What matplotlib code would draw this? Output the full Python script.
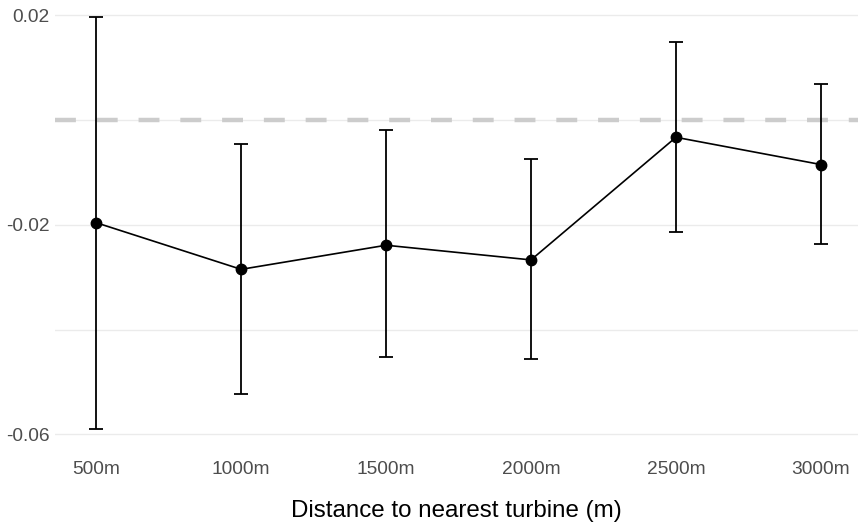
import matplotlib.pyplot as plt
import numpy as np

plt.rcParams['font.family'] = ['Liberation Sans', 'DejaVu Sans']

distance = [500, 1000, 1500, 2000, 2500, 3000]
labels = ['500m', '1000m', '1500m', '2000m', '2500m', '3000m']
estimate = [-0.0196, -0.0285, -0.0239, -0.0267, -0.0033, -0.0085]
lower = [-0.0590, -0.0523, -0.0452, -0.0456, -0.0214, -0.0237]
upper = [0.0197, -0.0046, -0.0019, -0.0074, 0.0148, 0.0069]

est = np.array(estimate)
yerr = [est - np.array(lower), np.array(upper) - est]

fig = plt.figure(figsize=(8.6, 5.23), dpi=100)
ax = fig.add_axes([55/860, 1 - 449.6/523, (858-55)/860, 449.6/523])

ax.set_yticks([-0.06, -0.02, 0.02])
ax.set_yticks([-0.04, 0.0], minor=True)
ax.grid(True, axis='y', which='both', color='#ebebeb', linewidth=1.0)
ax.tick_params(axis='y', which='minor', length=0)
ax.set_axisbelow(True)

ax.axhline(0, color='#cccccc', linewidth=3.2, dashes=(4.7, 4.7), zorder=1)

ax.plot(distance, estimate, color='black', linewidth=1.2, zorder=3)
ax.errorbar(distance, estimate, yerr=yerr, fmt='none', ecolor='black',
            elinewidth=1.3, capsize=5, capthick=1.3, zorder=3)
ax.plot(distance, estimate, 'o', color='black', markersize=7.5, zorder=4)

ax.set_xlim(358, 3128)
ax.set_ylim(-0.0629, 0.0229)
ax.set_xticks(distance)
ax.set_xticklabels(labels)
ax.set_yticklabels(['-0.06', '-0.02', '0.02'])
ax.tick_params(axis='both', which='major', length=0, labelsize=13.8, labelcolor='#4d4d4d')
ax.tick_params(axis='x', pad=8)
ax.tick_params(axis='y', pad=4)

for s in ax.spines.values():
    s.set_visible(False)

ax.set_xlabel('Distance to nearest turbine (m)', fontsize=17.4, color='black', labelpad=16)

fig.savefig('out.png', dpi=100)
